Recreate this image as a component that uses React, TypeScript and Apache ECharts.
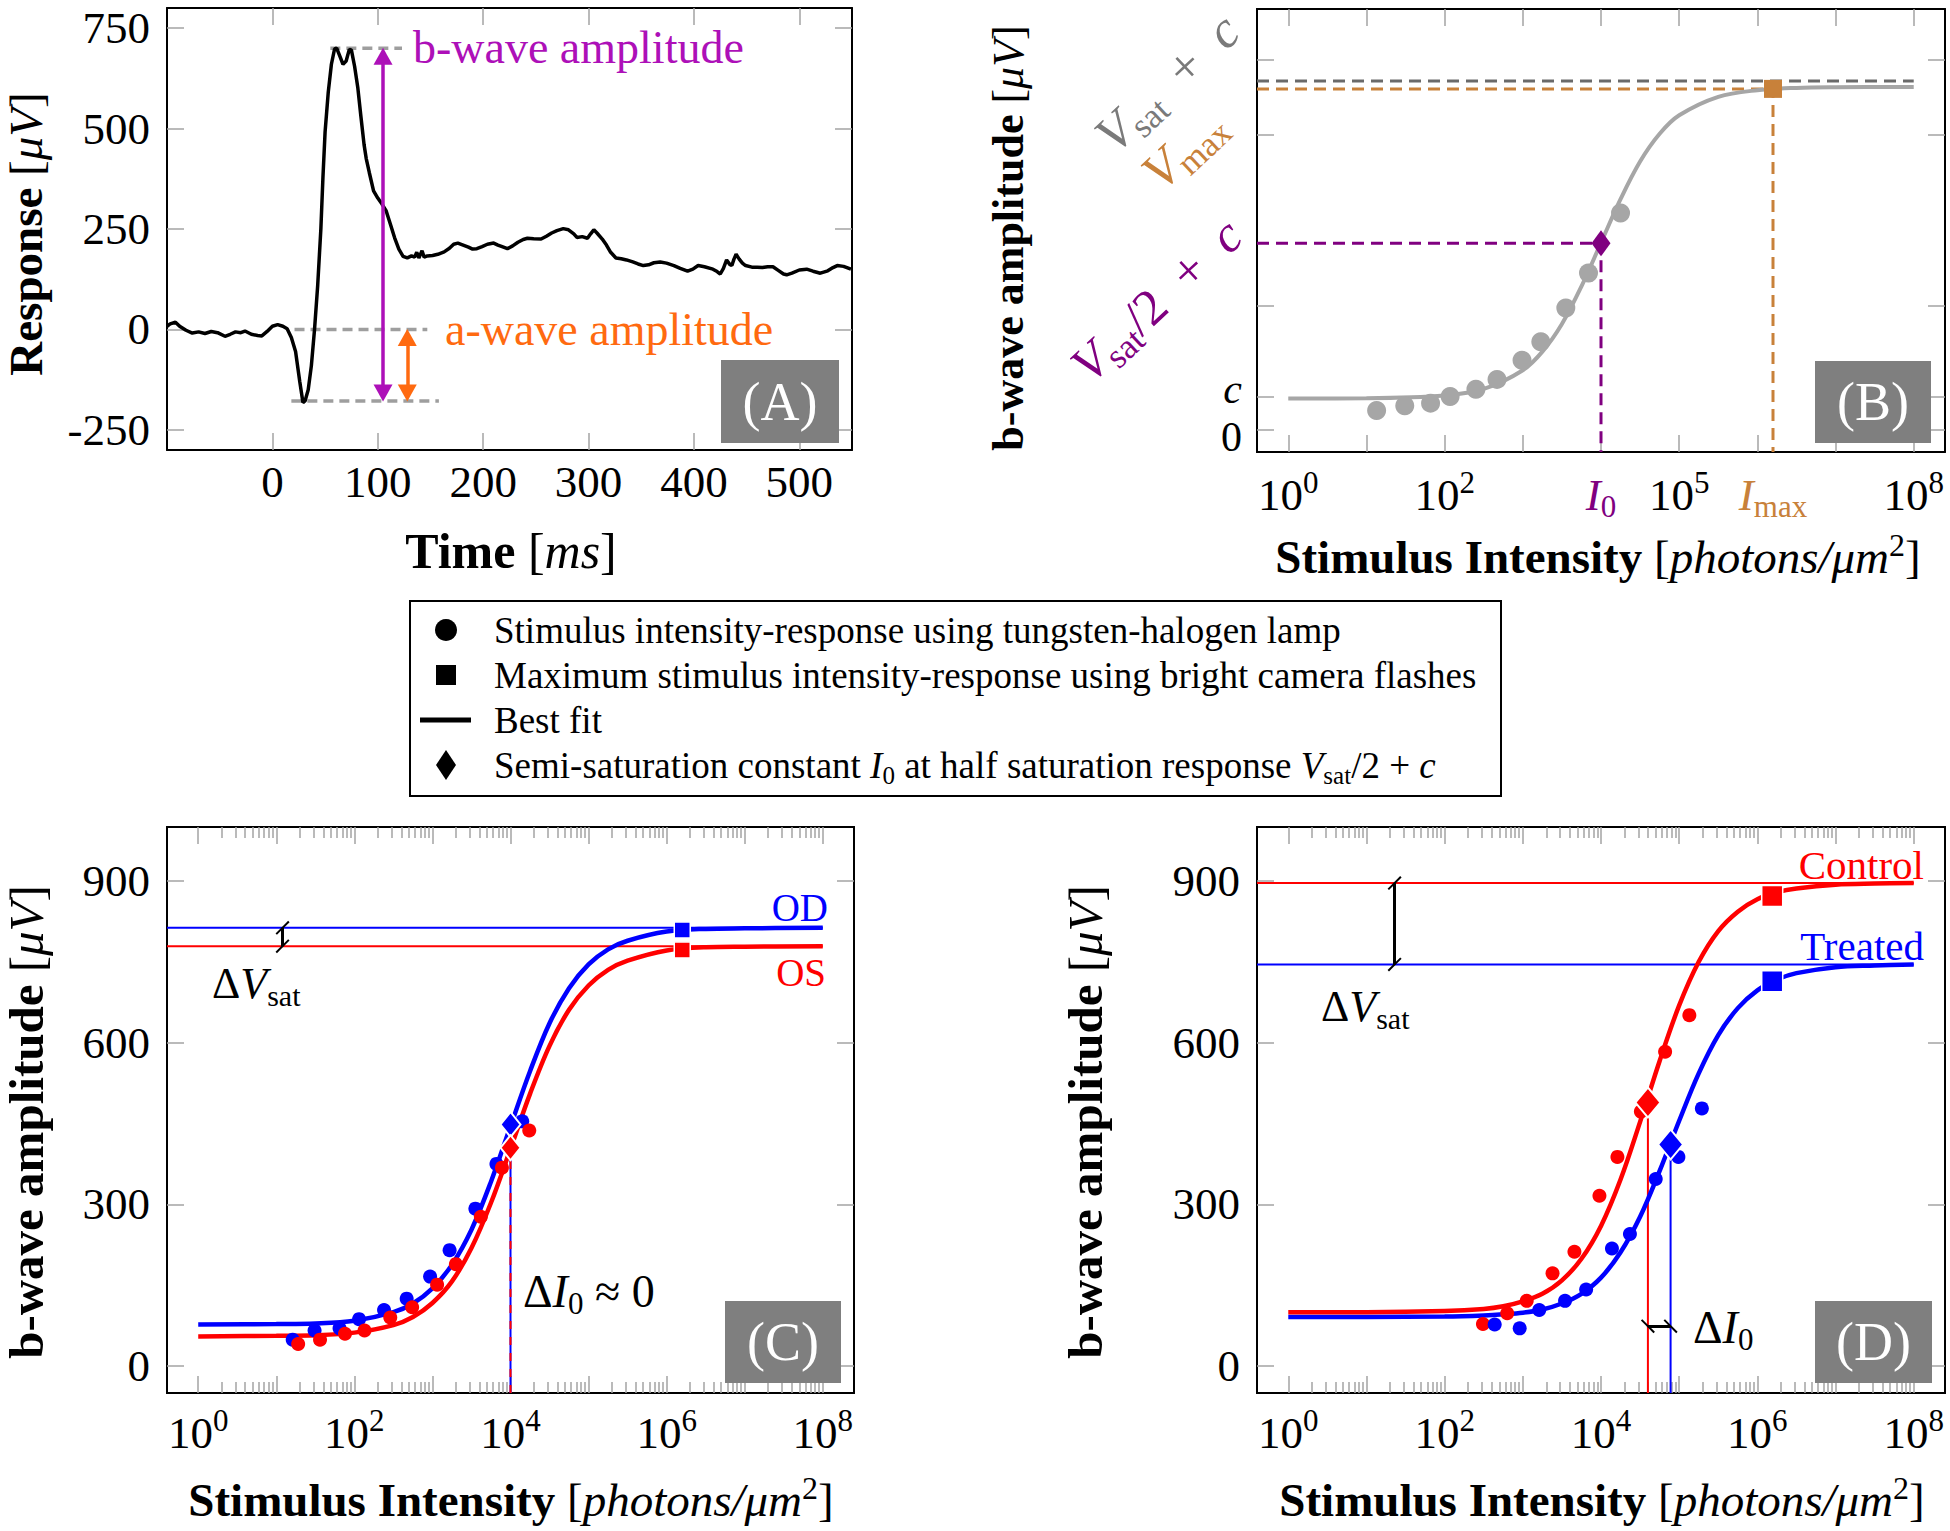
import React, { useEffect, useRef } from "react";
import * as echarts from "echarts";

const FONT = '"Liberation Serif", "Times New Roman", serif';

// ---------------- Panel A : ERG waveform ----------------
const aTimeMs = [-100,-97,-92,-88,-82,-76,-70,-64,-58,-52,-45,-40,-35,-30,-26,-20,-14,-10,-5,0,5,10,14,18,22,26,29,31,34,37,40,43,46,48,50,53,56,59,61,64,67,70,73,75,78,81,84,87,89,92,96,100,104,108,112,116,120,124,128,132,135,137,139,142,144,147,152,157,163,168,172,176,181,186,190,194,199,204,210,214,218,223,228,233,238,242,248,255,260,265,270,276,281,286,289,294,299,302,305,308,313,317,321,326,331,336,342,347,352,357,362,368,374,381,387,394,399,404,410,418,422,425,428,431,434,436,438,440,443,446,449,455,460,465,470,475,480,485,488,493,500,507,513,520,527,532,536,542,549];
const aResponseUv = [8,14,18,8,-2,-9,-6,-10,-5,-8,-17,-12,-6,-8,-4,-12,-15,-16,-5,8,12,8,2,-20,-55,-130,-182,-178,-150,-90,0,110,250,380,491,590,660,698,700,680,660,668,697,695,655,603,530,460,426,390,345,327,312,295,262,228,200,182,178,183,180,192,178,196,180,183,184,187,193,202,212,215,210,205,200,201,206,212,215,210,206,201,208,217,224,227,226,225,232,240,246,251,248,238,229,231,227,238,248,240,225,210,192,178,176,173,168,163,159,161,166,168,165,159,152,145,150,159,156,150,144,138,152,173,162,159,175,187,175,165,159,155,155,154,156,156,147,138,136,140,148,150,145,140,146,154,159,157,150];
const aXTicks = [0, 100, 200, 300, 400, 500];
const aYTicks = [-250, 0, 250, 500, 750];
const aBwavePeak = 700;
const aAwaveTrough = -178;
const aBaseline = 0;
const aPeakDashMs = [55, 123];
const aBaseDashMs = [21, 147];
const aTroughDashMs = [18, 158];
const aBArrowMs = 105;
const aAArrowMs = 128;

// ---------------- Panel B : schematic (log10 intensity) ----------------
const bPointLogI = [1.13, 1.49, 1.82, 2.07, 2.40, 2.67, 2.99, 3.23, 3.55, 3.84, 4.25];
const bPointAmp = [30, 37, 41, 51, 62, 77, 106, 134, 185, 238, 329];
const bFitLogI = [0, 1, 2, 2.5, 3, 3.25, 3.5, 3.75, 4, 4.25, 4.5, 4.75, 5, 5.5, 6, 6.5, 7, 8];
const bFitAmp = [48, 48.5, 52.7, 62.5, 90.9, 119, 161, 218, 284, 350, 407, 449, 477, 505, 515, 518.5, 519.5, 520];
const bVsatPlusC = 529;
const bVmax = 517;
const bHalfSat = 283;
const bI0Log = 4;
const bImaxLog = 6.2;
const bC = 50;
const bZero = 0;
const bYTicks = [0, 50, 189, 447, 561];
const bXLabels = [0, 2, 4, 5, 6.2, 8];

// ---------------- Panel C : OD vs OS ----------------
const cFitLogI = [0, 1, 1.5, 2, 2.5, 2.75, 3, 3.25, 3.5, 3.75, 4, 4.25, 4.5, 4.75, 5, 5.25, 5.5, 6, 6.5, 7, 8];
const cOdFit = [77, 78, 79, 84, 100, 116, 144, 188, 253, 342, 445, 547, 636, 701, 745, 773, 789, 806, 811, 812, 813];
const cOsFit = [55, 56, 57, 62, 76, 91, 117, 157, 219, 303, 403, 505, 594, 661, 706, 735, 752, 771, 777, 778, 779];
const cOdLogI = [1.21, 1.49, 1.81, 2.06, 2.38, 2.67, 2.97, 3.22, 3.55, 3.82, 4.15];
const cOdAmp = [49, 66, 70, 87, 104, 125, 166, 215, 292, 375, 454];
const cOsLogI = [1.28, 1.56, 1.88, 2.13, 2.46, 2.74, 3.06, 3.30, 3.62, 3.89, 4.24];
const cOsAmp = [41, 49, 60, 66, 90, 109, 151, 189, 277, 368, 437];
const cOdVsat = 813;
const cOsVsat = 779;
const cOdMax = [6.2, 809];
const cOsMax = [6.2, 772];
const cOdI0 = [4.0, 448];
const cOsI0 = [4.0, 405];
const cBracketLogI = 1.08;

// ---------------- Panel D : Control vs Treated ----------------
const dFitLogI = [0, 1, 2, 2.5, 2.75, 3, 3.25, 3.5, 3.75, 4, 4.25, 4.5, 4.75, 5, 5.25, 5.5, 5.75, 6, 6.25, 6.5, 7, 7.5, 8];
const dControlFit = [100, 100, 102, 106, 111, 120, 134, 159, 199, 260, 346, 453, 566, 669, 750, 807, 843, 866, 879, 886, 893, 895, 896];
const dTreatedFit = [91, 91, 92, 94, 96, 99, 105, 116, 134, 164, 211, 277, 362, 455, 543, 614, 664, 697, 717, 729, 740, 743, 745];
const dControlLogI = [2.49, 2.80, 3.05, 3.38, 3.66, 3.98, 4.21, 4.51, 4.82, 5.13];
const dControlAmp = [78, 98, 121, 172, 212, 316, 388, 472, 583, 651];
const dTreatedLogI = [2.64, 2.96, 3.21, 3.54, 3.81, 4.14, 4.37, 4.70, 4.99, 5.29];
const dTreatedAmp = [77, 70, 104, 121, 142, 218, 245, 347, 388, 478];
const dControlVsat = 896;
const dTreatedVsat = 745;
const dControlMax = [6.19, 872];
const dTreatedMax = [6.19, 714];
const dControlI0 = [4.6, 489];
const dTreatedI0 = [4.89, 411];
const dBracketLogI = 1.36;
const dI0BracketAmp = 74;

const logDecades = [0, 1, 2, 3, 4, 5, 6, 7, 8];
const logEvenDecades = [0, 2, 4, 6, 8];
const logMinorFactors = [2, 3, 4, 5, 6, 7, 8, 9];
const ampTicks = [0, 300, 600, 900];

const BLUE = "#0000ff";
const RED = "#ff0000";
const MAGENTA = "#ad10b8";
const ORANGE_A = "#ff6a10";
const GRAY_DASH_A = "#9e9e9e";
const GRAY_FIT = "#a6a6a6";
const GRAY_DASH_B = "#6a6a6a";
const GRAY_LABEL = "#7a7a7a";
const BROWN = "#c8813a";
const PURPLE = "#800080";
const BOX_GRAY = "#7f7f7f";
const EN = "\u2002";

// rich styles for axis labels (ECharts "color")
function richSet(size: number, color: string) {
  const lh = Math.round(size * 1.22);
  return {
    r: { fontSize: size, fontFamily: FONT, color, lineHeight: lh },
    i: { fontSize: size, fontFamily: FONT, fontStyle: "italic", color, lineHeight: lh },
    b: { fontSize: size, fontFamily: FONT, fontWeight: "bold", color, lineHeight: lh },
    sub: { fontSize: Math.round(size * 0.68), fontFamily: FONT, color, lineHeight: Math.round(size * 0.74), verticalAlign: "bottom" },
    sup: { fontSize: Math.round(size * 0.68), fontFamily: FONT, color, lineHeight: Math.round(size * 0.66), verticalAlign: "top" },
  };
}
// rich styles for graphic texts (zrender "fill")
function gRich(size: number, color: string) {
  const base: any = richSet(size, color);
  const out: any = {};
  Object.keys(base).forEach((k) => (out[k] = { ...base[k], fill: color }));
  return out;
}

const pairs = (xs: number[], ys: number[]) => xs.map((x, i) => [x, ys[i]]);

function mkAxis(o: any) {
  return {
    type: "value",
    gridIndex: o.grid,
    min: o.min,
    max: o.max,
    position: o.pos,
    axisLine: { show: true, onZero: false, lineStyle: { color: "#000", width: 2 } },
    splitLine: { show: false },
    axisTick: {
      show: o.ticks.length > 0,
      inside: true,
      length: o.tickLen ?? 17,
      customValues: o.ticks,
      lineStyle: { color: "#a3a3a3", width: 1.5 },
    },
    axisLabel: o.labels
      ? {
          show: true,
          customValues: o.labels,
          formatter: o.fmt,
          margin: o.margin ?? 14,
          color: "#000",
          fontFamily: FONT,
          fontSize: o.fontSize ?? 45,
          fontStyle: o.italic ? "italic" : "normal",
          lineHeight: o.lineHeight ?? 45,
          hideOverlap: false,
          ...(o.valign ? { verticalAlign: o.valign } : {}),
          rich: o.rich,
        }
      : { show: false },
  };
}

function lineS(xi: number, yi: number, data: any[], color: string, width: number, extra: any = {}) {
  return {
    type: "line",
    xAxisIndex: xi,
    yAxisIndex: yi,
    data,
    symbol: "none",
    silent: true,
    lineStyle: { color, width, ...(extra.dash ? { type: extra.dash } : {}) },
    itemStyle: { color },
    smooth: extra.smooth ? 0.35 : false,
    z: extra.z ?? 2,
  };
}

function scat(xi: number, yi: number, data: any[], color: string, symbol: string, size: any, border = 0, z = 4) {
  return {
    type: "scatter",
    xAxisIndex: xi,
    yAxisIndex: yi,
    data,
    symbol,
    symbolSize: size,
    silent: true,
    z,
    itemStyle: { color, opacity: 1, borderColor: "#ffffff", borderWidth: border },
  };
}

const SLASH = "path://M0,9 L9,0 L10,1 L1,10 Z";

function bracket(xi: number, yi: number, from: number[], to: number[]) {
  return {
    type: "line",
    xAxisIndex: xi,
    yAxisIndex: yi,
    data: [],
    silent: true,
    z: 5,
    markLine: {
      silent: true,
      animation: false,
      symbol: [SLASH, SLASH],
      symbolSize: 14,
      label: { show: false },
      emphasis: { disabled: true },
      lineStyle: { color: "#000", width: 3, type: "solid" },
      data: [[{ coord: from }, { coord: to }]],
    },
  };
}

function txt(x: number, y: number, text: string, size: number, color = "#000", align = "left", rotation = 0) {
  return {
    type: "text",
    x,
    y,
    rotation,
    silent: true,
    z: 100,
    style: {
      text,
      rich: gRich(size, color),
      align,
      verticalAlign: "middle",
      fill: color,
      fontSize: size,
      fontFamily: FONT,
    },
  };
}

function panelBox(x: number, y: number, w: number, h: number, label: string) {
  return [
    { type: "rect", shape: { x, y, width: w, height: h }, style: { fill: BOX_GRAY }, z: 90, silent: true },
    {
      type: "text",
      x: x + w / 2,
      y: y + h / 2,
      z: 91,
      silent: true,
      style: { text: label, fill: "#fff", fontSize: 54, fontFamily: FONT, align: "center", verticalAlign: "middle" },
    },
  ];
}

function buildOption() {
  const minorTicks: number[] = [];
  for (let k = 0; k < 8; k++) for (const m of logMinorFactors) minorTicks.push(k + Math.log10(m));

  const tickRich = {
    ...richSet(45, "#000"),
    pi: { fontSize: 45, fontFamily: FONT, fontStyle: "italic", color: PURPLE, lineHeight: 55 },
    psub: { fontSize: 31, fontFamily: FONT, color: PURPLE, lineHeight: 33, verticalAlign: "bottom" },
    oi: { fontSize: 45, fontFamily: FONT, fontStyle: "italic", color: BROWN, lineHeight: 55 },
    osub: { fontSize: 31, fontFamily: FONT, color: BROWN, lineHeight: 33, verticalAlign: "bottom" },
  };
  const powFmt = (v: number) => `{r|10}{sup|${v}}`;
  const bXFmt = (v: number) =>
    Math.abs(v - bI0Log) < 1e-6 ? "{pi|I}{psub|0}" : Math.abs(v - bImaxLog) < 1e-6 ? "{oi|I}{osub|max}" : powFmt(v);

  const xAxis = [
    mkAxis({ grid: 0, min: -100, max: 550, pos: "bottom", ticks: aXTicks, labels: aXTicks, fmt: (v: number) => String(v), margin: 9 }),
    mkAxis({ grid: 0, min: -100, max: 550, pos: "top", ticks: aXTicks }),
    mkAxis({ grid: 1, min: -0.4, max: 8.4, pos: "bottom", ticks: logDecades, labels: bXLabels, fmt: bXFmt, margin: 15, rich: tickRich }),
    mkAxis({ grid: 1, min: -0.4, max: 8.4, pos: "top", ticks: logDecades }),
    mkAxis({ grid: 2, min: -0.4, max: 8.4, pos: "bottom", ticks: logDecades, labels: logEvenDecades, fmt: powFmt, margin: 12, rich: tickRich }),
    mkAxis({ grid: 2, min: -0.4, max: 8.4, pos: "top", ticks: logDecades }),
    mkAxis({ grid: 2, min: -0.4, max: 8.4, pos: "bottom", ticks: minorTicks, tickLen: 11 }),
    mkAxis({ grid: 2, min: -0.4, max: 8.4, pos: "top", ticks: minorTicks, tickLen: 11 }),
    mkAxis({ grid: 3, min: -0.4, max: 8.4, pos: "bottom", ticks: logDecades, labels: logEvenDecades, fmt: powFmt, margin: 12, rich: tickRich }),
    mkAxis({ grid: 3, min: -0.4, max: 8.4, pos: "top", ticks: logDecades }),
    mkAxis({ grid: 3, min: -0.4, max: 8.4, pos: "bottom", ticks: minorTicks, tickLen: 11 }),
    mkAxis({ grid: 3, min: -0.4, max: 8.4, pos: "top", ticks: minorTicks, tickLen: 11 }),
  ];
  const yAxis = [
    mkAxis({ grid: 0, min: -300, max: 800, pos: "left", ticks: aYTicks, labels: aYTicks, fmt: (v: number) => String(v), margin: 17 }),
    mkAxis({ grid: 0, min: -300, max: 800, pos: "right", ticks: aYTicks }),
    mkAxis({ grid: 1, min: -33, max: 638, pos: "left", ticks: bYTicks, labels: [bC], fmt: () => "c", italic: true, margin: 15, fontSize: 42, lineHeight: 16, valign: "bottom" }),
    mkAxis({ grid: 1, min: -33, max: 638, pos: "right", ticks: bYTicks }),
    mkAxis({ grid: 2, min: -50, max: 1000, pos: "left", ticks: ampTicks, labels: ampTicks, fmt: (v: number) => String(v), margin: 17 }),
    mkAxis({ grid: 2, min: -50, max: 1000, pos: "right", ticks: ampTicks }),
    mkAxis({ grid: 3, min: -50, max: 1000, pos: "left", ticks: ampTicks, labels: ampTicks, fmt: (v: number) => String(v), margin: 17 }),
    mkAxis({ grid: 3, min: -50, max: 1000, pos: "right", ticks: ampTicks }),
    // separate axis carrying only the "0" label of panel B (avoids overlap hiding)
    mkAxis({ grid: 1, min: -33, max: 638, pos: "left", ticks: [], labels: [bZero], fmt: () => "0", margin: 15, fontSize: 42, lineHeight: 14, valign: "top" }),
  ];

  const dashA = [10, 6];
  const dashB = [12, 7];
  const arrowPx = 20; // µV equivalent of half an arrow head

  const series: any[] = [
    // ---- A ----
    lineS(0, 0, [[aPeakDashMs[0], aBwavePeak], [aPeakDashMs[1], aBwavePeak]], GRAY_DASH_A, 3.5, { dash: dashA }),
    lineS(0, 0, [[aBaseDashMs[0], aBaseline], [aBaseDashMs[1], aBaseline]], GRAY_DASH_A, 3.5, { dash: dashA }),
    lineS(0, 0, [[aTroughDashMs[0], aAwaveTrough], [aTroughDashMs[1], aAwaveTrough]], GRAY_DASH_A, 3.5, { dash: dashA }),
    lineS(0, 0, pairs(aTimeMs, aResponseUv), "#000", 3.5, { z: 3 }),
    {
      type: "line",
      xAxisIndex: 0,
      yAxisIndex: 0,
      data: [],
      silent: true,
      z: 5,
      markLine: {
        silent: true,
        animation: false,
        symbol: ["triangle", "triangle"],
        symbolSize: [19, 17],
        label: { show: false },
        emphasis: { disabled: true },
        data: [
          [
            { coord: [aBArrowMs, aAwaveTrough + arrowPx], lineStyle: { color: MAGENTA, width: 3.5, type: "solid" } },
            { coord: [aBArrowMs, aBwavePeak - arrowPx] },
          ],
          [
            { coord: [aAArrowMs, aAwaveTrough + arrowPx], lineStyle: { color: ORANGE_A, width: 3.5, type: "solid" } },
            { coord: [aAArrowMs, aBaseline - arrowPx] },
          ],
        ],
      },
    },
    // ---- B ----
    lineS(2, 2, [[-0.4, bVsatPlusC], [8, bVsatPlusC]], GRAY_DASH_B, 3, { dash: dashB }),
    lineS(2, 2, [[-0.4, bVmax], [bImaxLog, bVmax], [bImaxLog, -33]], BROWN, 3, { dash: dashB }),
    lineS(2, 2, [[-0.4, bHalfSat], [bI0Log, bHalfSat], [bI0Log, -33]], PURPLE, 3, { dash: dashB }),
    lineS(2, 2, pairs(bFitLogI, bFitAmp), GRAY_FIT, 4, { smooth: true, z: 3 }),
    scat(2, 2, pairs(bPointLogI, bPointAmp), GRAY_FIT, "circle", 19),
    scat(2, 2, [[bImaxLog, bVmax]], BROWN, "rect", 18, 0, 6),
    scat(2, 2, [[bI0Log, bHalfSat]], PURPLE, "diamond", [19, 26], 0, 6),
    // ---- C ----
    lineS(4, 4, [[-0.4, cOdVsat], [8, cOdVsat]], BLUE, 2),
    lineS(4, 4, [[-0.4, cOsVsat], [8, cOsVsat]], RED, 2),
    lineS(4, 4, [[cOdI0[0], -50], [cOdI0[0], 390]], BLUE, 2),
    lineS(4, 4, [[cOsI0[0], -50], [cOsI0[0], 390]], RED, 2, { dash: [8, 8] }),
    lineS(4, 4, pairs(cFitLogI, cOdFit), BLUE, 4.5, { smooth: true, z: 3 }),
    lineS(4, 4, pairs(cFitLogI, cOsFit), RED, 4.5, { smooth: true, z: 3 }),
    scat(4, 4, pairs(cOdLogI, cOdAmp), BLUE, "circle", 14),
    scat(4, 4, pairs(cOsLogI, cOsAmp), RED, "circle", 14),
    scat(4, 4, [cOdMax], BLUE, "rect", 16, 1.5, 6),
    scat(4, 4, [cOsMax], RED, "rect", 16, 1.5, 6),
    scat(4, 4, [cOdI0], BLUE, "diamond", [20, 25], 2, 6),
    scat(4, 4, [cOsI0], RED, "diamond", [20, 25], 2, 6),
    bracket(4, 4, [cBracketLogI, cOdVsat], [cBracketLogI, cOsVsat]),
    // ---- D ----
    lineS(8, 6, [[-0.4, dControlVsat], [8, dControlVsat]], RED, 2),
    lineS(8, 6, [[-0.4, dTreatedVsat], [8, dTreatedVsat]], BLUE, 2),
    lineS(8, 6, [[dControlI0[0], -50], [dControlI0[0], dControlI0[1]]], RED, 2),
    lineS(8, 6, [[dTreatedI0[0], -50], [dTreatedI0[0], dTreatedI0[1]]], BLUE, 2),
    lineS(8, 6, pairs(dFitLogI, dTreatedFit), BLUE, 4.5, { smooth: true, z: 3 }),
    lineS(8, 6, pairs(dFitLogI, dControlFit), RED, 4.5, { smooth: true, z: 3 }),
    scat(8, 6, pairs(dControlLogI, dControlAmp), RED, "circle", 14),
    scat(8, 6, pairs(dTreatedLogI, dTreatedAmp), BLUE, "circle", 14),
    scat(8, 6, [dControlMax], RED, "rect", 21, 1.5, 6),
    scat(8, 6, [dTreatedMax], BLUE, "rect", 21, 1.5, 6),
    scat(8, 6, [dControlI0], RED, "diamond", [25, 30], 2, 6),
    scat(8, 6, [dTreatedI0], BLUE, "diamond", [25, 30], 2, 6),
    bracket(8, 6, [dBracketLogI, dControlVsat], [dBracketLogI, dTreatedVsat]),
    bracket(8, 6, [dControlI0[0], dI0BracketAmp], [dTreatedI0[0], dI0BracketAmp]),
  ];

  const ROT = (43 * Math.PI) / 180;
  const K = "#000";

  const graphic: any[] = [
    // axis titles
    txt(26, 234, "{b|Response }{r|[}{i|μV}{r|]}", 47, K, "center", Math.PI / 2),
    txt(511, 551, "{b|Time }{r|[}{i|ms}{r|]}", 50, K, "center"),
    txt(1008, 238, "{b|b-wave amplitude }{r|[}{i|μV}{r|]}", 44, K, "center", Math.PI / 2),
    txt(1598, 557, "{b|Stimulus Intensity }{r|[}{i|photons/μm}{sup|2}{r|]}", 47, K, "center"),
    txt(26, 1122, "{b|b-wave amplitude }{r|[}{i|μV}{r|]}", 49, K, "center", Math.PI / 2),
    txt(511, 1500, "{b|Stimulus Intensity }{r|[}{i|photons/μm}{sup|2}{r|]}", 47, K, "center"),
    txt(1085, 1122, "{b|b-wave amplitude }{r|[}{i|μV}{r|]}", 49, K, "center", Math.PI / 2),
    txt(1602, 1500, "{b|Stimulus Intensity }{r|[}{i|photons/μm}{sup|2}{r|]}", 47, K, "center"),
    // panel A annotations
    txt(413, 47, "{r|b-wave amplitude}", 46, MAGENTA),
    txt(445, 329, "{r|a-wave amplitude}", 46, ORANGE_A),
    ...panelBox(721, 360, 118, 83, "(A)"),
    // panel B rotated labels
    txt(1231, 23, `{i|V}{sub|sat}{r|${EN}+${EN}}{i|c}`, 52, GRAY_LABEL, "right", ROT),
    txt(1217, 117, "{i|V}{sub|max}", 52, BROWN, "right", ROT),
    txt(1234, 228, `{i|V}{sub|sat}{r|/2${EN}+${EN}}{i|c}`, 51, PURPLE, "right", ROT),
    ...panelBox(1815, 361, 116, 82, "(B)"),
    // panel C annotations
    txt(828, 907, "{r|OD}", 39, BLUE, "right"),
    txt(826, 972, "{r|OS}", 39, RED, "right"),
    txt(212, 983, "{r|Δ}{i|V}{sub|sat}", 44),
    txt(523, 1291, "{r|Δ}{i|I}{sub|0}{r| ≈ 0}", 46),
    ...panelBox(725, 1301, 116, 82, "(C)"),
    // panel D annotations
    txt(1924, 865, "{r|Control}", 41, RED, "right"),
    txt(1924, 946, "{r|Treated}", 41, BLUE, "right"),
    txt(1321, 1006, "{r|Δ}{i|V}{sub|sat}", 44),
    txt(1693, 1327, "{r|Δ}{i|I}{sub|0}", 46),
    ...panelBox(1815, 1301, 117, 82, "(D)"),
    // legend
    { type: "rect", shape: { x: 410, y: 601, width: 1091, height: 195 }, style: { fill: "#fff", stroke: "#000", lineWidth: 2 }, z: 80, silent: true },
    { type: "circle", shape: { cx: 446, cy: 630, r: 11 }, style: { fill: "#000" }, z: 81, silent: true },
    { type: "rect", shape: { x: 436, y: 665, width: 20, height: 20 }, style: { fill: "#000" }, z: 81, silent: true },
    { type: "line", shape: { x1: 420, y1: 720, x2: 471, y2: 720 }, style: { stroke: "#000", lineWidth: 5 }, z: 81, silent: true },
    { type: "polygon", shape: { points: [[446, 750], [456, 765], [446, 780], [436, 765]] }, style: { fill: "#000" }, z: 81, silent: true },
    txt(494, 630, "{r|Stimulus intensity-response using tungsten-halogen lamp}", 37),
    txt(494, 675, "{r|Maximum stimulus intensity-response using bright camera flashes}", 37),
    txt(494, 720, "{r|Best fit}", 37),
    txt(494, 765, "{r|Semi-saturation constant }{i|I}{sub|0}{r| at half saturation response }{i|V}{sub|sat}{r|/2 + }{i|c}", 37),
  ];

  return {
    animation: false,
    backgroundColor: "#ffffff",
    textStyle: { fontFamily: FONT },
    grid: [
      { left: 167, top: 8, width: 685, height: 442 },
      { left: 1257, top: 9, width: 688, height: 443 },
      { left: 167, top: 827, width: 687, height: 566 },
      { left: 1257, top: 827, width: 688, height: 566 },
    ],
    xAxis,
    yAxis,
    series,
    graphic,
  };
}

export default function App() {
  const ref = useRef<HTMLDivElement>(null);
  useEffect(() => {
    const chart = echarts.init(ref.current as HTMLDivElement, null, { renderer: "svg" });
    chart.setOption(buildOption() as any);
    return () => chart.dispose();
  }, []);
  return (
    <div
      ref={ref}
      style={{ position: "absolute", left: 0, top: 0, width: 1950, height: 1531, background: "#fff" }}
    />
  );
}
